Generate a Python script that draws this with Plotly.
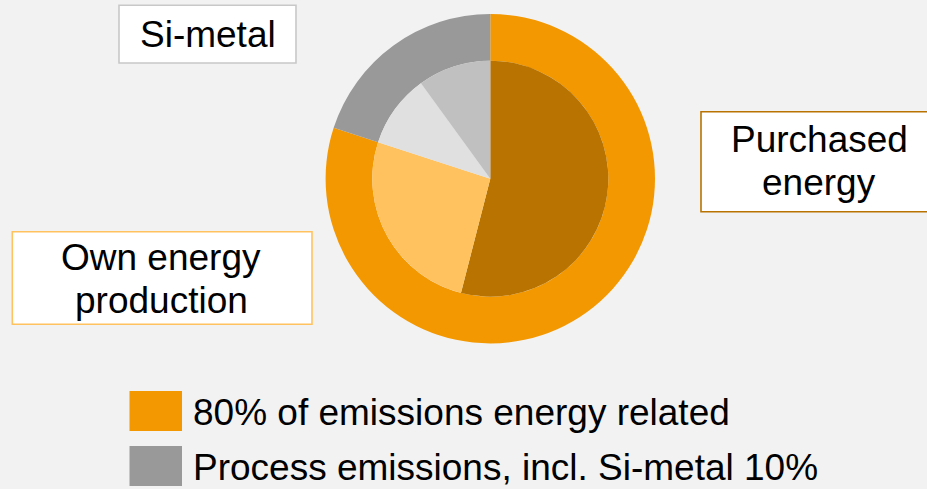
import plotly.graph_objects as go

# Emission shares (percent)
outer_labels = ["Energy related", "Process emissions"]
outer_values = [80, 20]
outer_colors = ["#F39800", "#999999"]

inner_labels = ["Purchased energy", "Own energy production", "Si-metal", "Other process"]
inner_values = [54, 26, 10, 10]
inner_colors = ["#B87300", "#FFC25F", "#E0E0E0", "#C0C0C0"]

# Callout labels (one entry per text line)
callout_si = ["Si-metal"]
callout_own = ["Own energy", "production"]
callout_purchased = ["Purchased", "energy"]

legend_texts = ["80% of emissions energy related",
                "Process emissions, incl. Si-metal 10%"]
legend_colors = ["#F39800", "#999999"]

W, H = 927, 489
FONT = "Arial, Liberation Sans, sans-serif"


def dom_x(cx, r):
    return [(cx - r) / W, (cx + r) / W]


def dom_y(cy, r):
    return [1 - (cy + r) / H, 1 - (cy - r) / H]


cx, cy = 490.3, 178.7
r_out, r_in = 164.7, 118.0

fig = go.Figure()

fig.add_trace(go.Pie(
    labels=outer_labels, values=outer_values,
    marker=dict(colors=outer_colors, line=dict(width=0)),
    hole=r_in / r_out, sort=False, direction="clockwise", rotation=0,
    textinfo="none", showlegend=False,
    domain=dict(x=dom_x(cx, r_out), y=dom_y(cy, r_out)),
))

fig.add_trace(go.Pie(
    labels=inner_labels, values=inner_values,
    marker=dict(colors=inner_colors, line=dict(width=0)),
    sort=False, direction="clockwise", rotation=0,
    textinfo="none", showlegend=False,
    domain=dict(x=dom_x(cx, r_in), y=dom_y(cy, r_in)),
))

shapes = []
annotations = []


def callout(x0, y0, x1, y1, border, lines, tx, ty0, dy):
    shapes.append(dict(type="rect", xref="x", yref="y", x0=x0, y0=y0, x1=x1, y1=y1,
                       fillcolor="white", line=dict(color=border, width=1.6), layer="above"))
    for i, t in enumerate(lines):
        annotations.append(dict(xref="x", yref="y", x=tx, y=ty0 + i * dy, text=t,
                                showarrow=False, xanchor="center", yanchor="middle",
                                font=dict(family=FONT, size=37, color="black")))


callout(119, 5.3, 296, 63, "#C8C8C8", callout_si, 207.5, 34.5, 0)
callout(12.3, 231.7, 312, 324.3, "#FFC25F", callout_own, 161, 257, 43.5)
callout(701, 111.7, 945, 211.7, "#B87300", callout_purchased, 819, 139.5, 42.5)

# Legend squares and texts
leg_y = [411, 466]
for i, (t, c) in enumerate(zip(legend_texts, legend_colors)):
    shapes.append(dict(type="rect", xref="x", yref="y", x0=129.5, x1=182,
                       y0=leg_y[i] - 20, y1=leg_y[i] + 20,
                       fillcolor=c, line=dict(width=0), layer="above"))
    annotations.append(dict(xref="x", yref="y", x=191, y=leg_y[i] + 1, text=t,
                            showarrow=False, xanchor="left", yanchor="middle",
                            font=dict(family=FONT, size=37, color="black")))

fig.update_layout(
    width=W, height=H,
    margin=dict(l=0, r=0, t=0, b=0),
    paper_bgcolor="#F2F2F2", plot_bgcolor="rgba(0,0,0,0)",
    xaxis=dict(range=[0, W], visible=False, fixedrange=True),
    yaxis=dict(range=[H, 0], visible=False, fixedrange=True),
    shapes=shapes, annotations=annotations,
    showlegend=False,
)

fig.write_html("out.html")
